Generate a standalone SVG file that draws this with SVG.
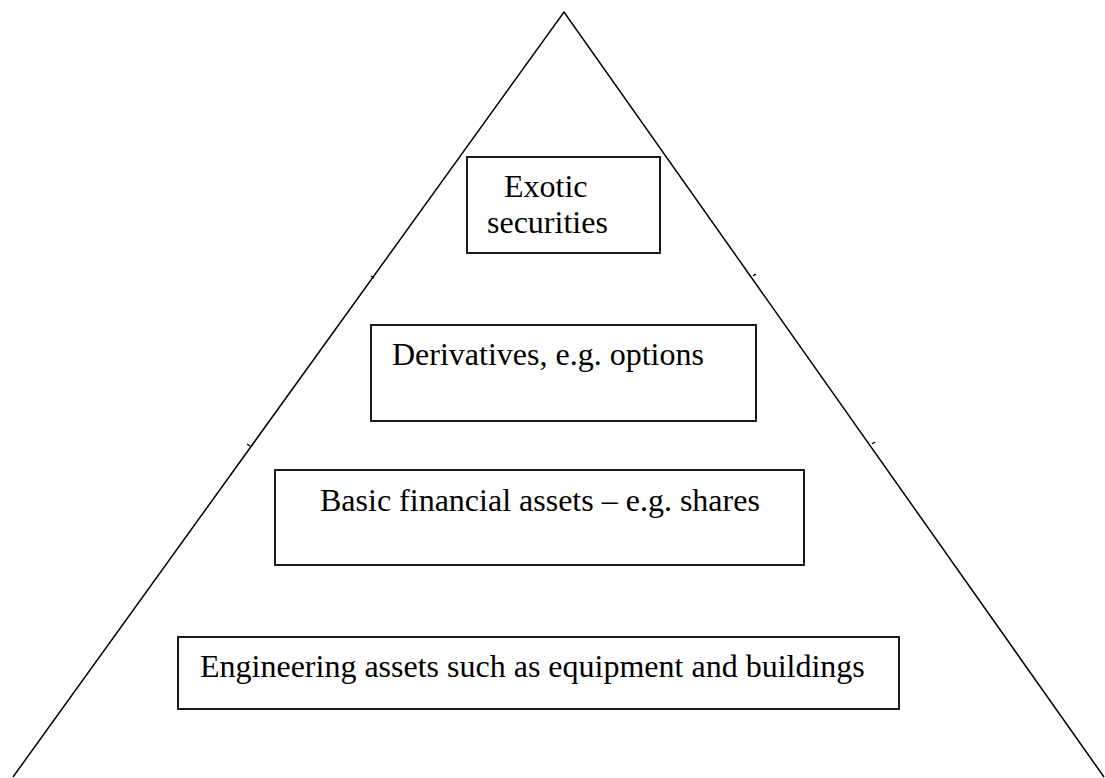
<svg xmlns="http://www.w3.org/2000/svg" width="1105" height="778" viewBox="0 0 1105 778">
  <style>
    .edge { fill: none; stroke: #000; stroke-width: 1.5; }
    .box { fill: #fff; stroke: #000; stroke-width: 1.8; }
    .lbl { font-family: "Liberation Serif", "Times New Roman", serif; font-size: 32px; fill: #000; }
  </style>
  <rect width="1105" height="778" fill="#fff"/>
  <g id="connectors">
    <polyline class="edge" points="13,777 564,12 1104,777"/>
    <line class="edge" x1="371" y1="276" x2="374" y2="278"/>
    <line class="edge" x1="753" y1="276" x2="756" y2="274"/>
    <line class="edge" x1="247" y1="444" x2="250" y2="446"/>
    <line class="edge" x1="872" y1="444" x2="875" y2="442"/>
  </g>
  <g id="node-exotic">
    <rect class="box" x="467" y="157" width="193" height="96"/>
    <text class="lbl" x="504" y="197">Exotic</text>
    <text class="lbl" x="487" y="233">securities</text>
  </g>
  <g id="node-derivatives">
    <rect class="box" x="371" y="325" width="385" height="96"/>
    <text class="lbl" x="392" y="365">Derivatives, e.g. options</text>
  </g>
  <g id="node-basic">
    <rect class="box" x="275" y="470" width="529" height="95"/>
    <text class="lbl" x="320" y="511">Basic financial assets – e.g. shares</text>
  </g>
  <g id="node-engineering">
    <rect class="box" x="178" y="637" width="721" height="72"/>
    <text class="lbl" x="200" y="677">Engineering assets such as equipment and buildings</text>
  </g>
</svg>
